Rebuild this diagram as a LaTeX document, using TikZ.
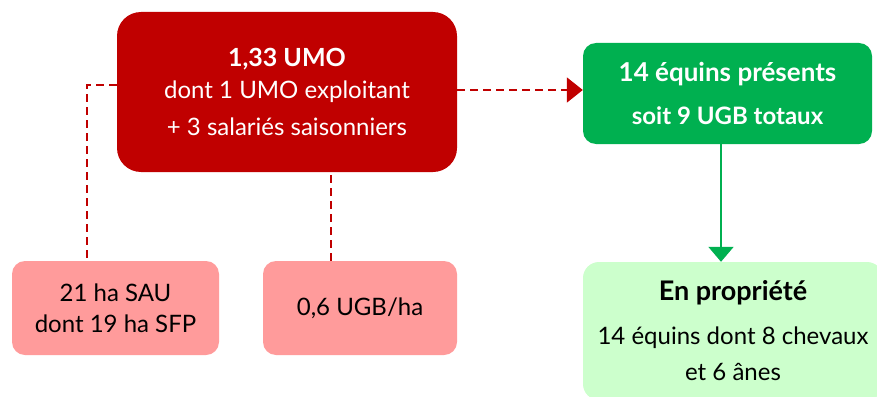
\documentclass[tikz,border=0pt]{standalone}
\usepackage{fontspec}
\setmainfont{Lato}
\usetikzlibrary{arrows.meta}
\definecolor{darkred}{HTML}{C00000}
\definecolor{pinkbox}{HTML}{FF9B9B}
\definecolor{greenbox}{HTML}{00B050}
\definecolor{palegreen}{HTML}{CCFFCC}
\tikzset{
  box/.style={rounded corners=#1, inner sep=0pt, align=center},
  box/.default=14pt,
  redbox/.style={box=24pt, fill=darkred, text=white, minimum width=340pt, minimum height=160pt,
    font=\fontsize{24}{32}\selectfont},
  pinkstyle/.style={box=13pt, fill=pinkbox, text=black, minimum height=94pt,
    font=\fontsize{24}{31}\selectfont},
  greenstyle/.style={box=13pt, fill=greenbox, text=white, font=\bfseries\fontsize{25}{43}\selectfont},
  palestyle/.style={box=16pt, fill=palegreen, text=black, font=\fontsize{24}{36}\selectfont},
  dashline/.style={draw=darkred, line width=2pt, dash pattern=on 8pt off 5pt},
  greenline/.style={draw=greenbox, line width=2pt},
}
\begin{document}
\begin{tikzpicture}[x=1pt,y=-1pt]
\useasboundingbox (0,0) rectangle (877,396);
\begin{scope}
\clip (0,0) rectangle (877,396);

% main labour box
\node[redbox] (umo) at (287,92)
  {{\bfseries\fontsize{25}{32}\selectfont 1,33 UMO}\\
   dont 1 UMO exploitant\\[5pt]
   + 3 salariés saisonniers};

% surface boxes
\node[pinkstyle, minimum width=207pt] (sau) at (115.5,308)
  {21 ha SAU\\ dont 19 ha SFP};
\node[pinkstyle, minimum width=194pt] (ugb) at (360,308)
  {0,6 UGB/ha};

% herd boxes
\node[greenstyle, minimum width=289pt, minimum height=101pt] (herd) at (727.5,93.5)
  {{\fontsize{26}{43}\selectfont 14 équins présents}\\
   {\fontsize{24}{43}\selectfont soit 9 UGB totaux}};
\node[palestyle, minimum width=300pt, minimum height=138pt] (own) at (733,331)
  {{\bfseries\fontsize{27}{36}\selectfont En propriété}\\[8pt]
   14 équins dont 8 chevaux\\
   et 6 ânes};
\end{scope}

% connectors
\draw[dashline] ([yshift=7pt]umo.west) -| ([xshift=-28.5pt]sau.north);
\draw[dashline] ([xshift=-29pt]ugb.north) -- ([xshift=-29pt]ugb.north |- umo.south);
\draw[dashline, -{Triangle[length=16pt,width=25pt]}] ([yshift=2pt]umo.east) -- ([yshift=2pt]umo.east -| herd.west);
\draw[greenline, -{Triangle[length=15pt,width=25pt]}] ([xshift=-6.5pt]herd.south) -- ([xshift=-6.5pt]herd.south |- own.north);
\end{tikzpicture}
\end{document}
